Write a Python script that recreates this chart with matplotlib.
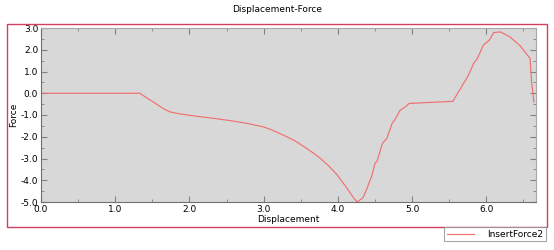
import matplotlib
matplotlib.use("Agg")
import matplotlib.pyplot as plt
from matplotlib.patches import Rectangle
from matplotlib.ticker import MultipleLocator, FormatStrFormatter

# -------------------------------
# DATA
# -------------------------------
displacement = [0.0, 1.33, 1.67, 1.74, 1.87, 2.10, 2.32, 2.55, 2.77, 3.0,
                3.09, 3.20, 3.31, 3.42, 3.54, 3.65, 3.76, 3.88, 3.99, 4.12,
                4.21, 4.26, 4.34, 4.39, 4.46, 4.50, 4.53, 4.60, 4.66, 4.73,
                4.77, 4.84, 4.91, 4.96, 5.55, 5.76, 5.83, 5.88, 5.96, 6.04,
                6.10, 6.19, 6.32, 6.46, 6.59, 6.61, 6.63, 6.64]
force = [0.0, 0.0, -0.75, -0.86, -0.95, -1.06, -1.15, -1.26, -1.38, -1.55,
         -1.66, -1.82, -2.0, -2.18, -2.45, -2.70, -2.98, -3.35, -3.75, -4.35,
         -4.80, -5.0, -4.80, -4.40, -3.77, -3.23, -3.11, -2.31, -2.08, -1.39,
         -1.21, -0.78, -0.63, -0.47, -0.37, 0.83, 1.37, 1.60, 2.21, 2.44,
         2.79, 2.82, 2.59, 2.17, 1.60, 0.52, -0.02, -0.40]

title = "Displacement-Force"
series_name = "InsertForce2"

# -------------------------------
# FIGURE
# -------------------------------
plt.rcParams["axes.unicode_minus"] = False
plt.rcParams["font.size"] = 6

fig = plt.figure(figsize=(5.54, 2.5), dpi=100)
ax = fig.add_axes([41 / 554, 48 / 250, 495 / 554, 174 / 250])
ax.set_facecolor("#d8d8d8")

line, = ax.plot(displacement, force, color="#f07070", linewidth=0.85, label=series_name)

ax.set_xlim(0, 6.67)
ax.set_ylim(-5.0, 3.0)
ax.xaxis.set_major_locator(MultipleLocator(1.0))
ax.xaxis.set_minor_locator(MultipleLocator(0.5))
ax.yaxis.set_major_locator(MultipleLocator(1.0))
ax.yaxis.set_minor_locator(MultipleLocator(0.5))
ax.xaxis.set_major_formatter(FormatStrFormatter("%.1f"))
ax.yaxis.set_major_formatter(FormatStrFormatter("%.1f"))
ax.tick_params(which="both", direction="in", top=True, right=True,
               color="#808080", labelsize=6.5, pad=2)
ax.tick_params(which="major", length=4, width=0.8)
ax.tick_params(which="minor", length=2, width=0.6)

for side in ["left", "bottom"]:
    ax.spines[side].set_color("#707070")
for side in ["top", "right"]:
    ax.spines[side].set_color("#a8a8a8")

ax.set_xlabel("Displacement", fontsize=6.5, labelpad=1)
ax.set_ylabel("Force", fontsize=6.5, labelpad=2)
fig.text(0.5, 1 - 10 / 250, title, ha="center", va="center", fontsize=6.5)

# outer red frame
fig.patches.append(Rectangle((7 / 554, 23 / 250), 540 / 554, 203 / 250,
                             transform=fig.transFigure, fill=False,
                             edgecolor="#d04060", linewidth=1.0))

leg = fig.legend(handles=[line], loc="upper right",
                 bbox_to_anchor=(546 / 554, 1 - 227 / 250),
                 frameon=True, fancybox=False, fontsize=6.5,
                 handlelength=3, borderpad=0.3, borderaxespad=0,
                 handletextpad=1.5)
leg.get_frame().set_edgecolor("#909090")
leg.get_frame().set_linewidth(0.8)

plt.savefig("out.png", dpi=100)
plt.close()
